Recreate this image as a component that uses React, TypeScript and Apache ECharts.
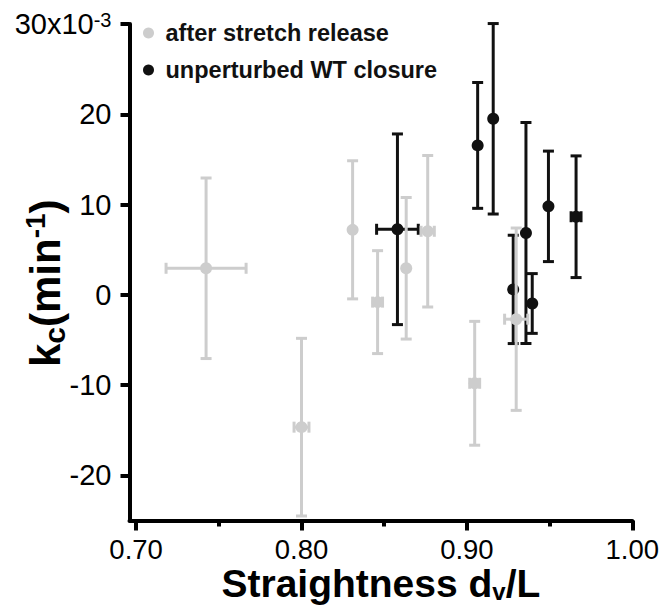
import React, { useEffect, useRef } from 'react';
import * as echarts from 'echarts';

// after stretch release (light gray)
const releaseX = [0.7423, 0.8, 0.8309, 0.846, 0.8633, 0.8763, 0.9047, 0.9298];
const releaseY = [2.94, -14.66, 7.2, -0.81, 2.94, 7.04, -9.8, -2.7];
const releaseXErr = [0.0242, 0.0045, 0, 0.003, 0, 0.004, 0.003, 0.007];
const releaseYErr = [10.0, 9.84, 7.65, 5.7, 7.84, 8.39, 6.86, 10.1];

// unperturbed WT closure (black)
const wtX = [0.858, 0.9065, 0.9159, 0.928, 0.9357, 0.9395, 0.9493, 0.966];
const wtY = [7.26, 16.55, 19.5, 0.6, 6.85, -0.96, 9.8, 8.65];
const wtXErr = [0.0126, 0, 0, 0, 0, 0, 0, 0.003];
const wtYErr = [10.56, 6.97, 10.55, 6.0, 12.24, 3.31, 6.12, 6.74];

const xTicks = [0.7, 0.8, 0.9, 1.0];
const xMinorTicks = [0.75, 0.85, 0.95];
const yTicks = [-20, -10, 0, 10, 20, 30];

const NAME_RELEASE = 'after stretch release';
const NAME_WT = 'unperturbed WT closure';

const FONT = '"Liberation Sans", Arial, Helvetica, sans-serif';
const GRAY = '#cdcdcd';
const DARK = '#111111';

function errorRenderer(color: string) {
  return (params: any, api: any) => {
    const x = api.value(0);
    const y = api.value(1);
    const xe = api.value(2);
    const ye = api.value(3);
    const c = api.coord([x, y]);
    const top = api.coord([x, y + ye]);
    const bot = api.coord([x, y - ye]);
    const cap = 5.5;
    const style = { stroke: color, lineWidth: 3, fill: null };
    const children: any[] = [
      { type: 'line', shape: { x1: c[0], y1: top[1], x2: c[0], y2: bot[1] }, style },
      { type: 'line', shape: { x1: c[0] - cap, y1: top[1], x2: c[0] + cap, y2: top[1] }, style },
      { type: 'line', shape: { x1: c[0] - cap, y1: bot[1], x2: c[0] + cap, y2: bot[1] }, style },
    ];
    if (xe > 0) {
      const l = api.coord([x - xe, y]);
      const r = api.coord([x + xe, y]);
      children.push(
        { type: 'line', shape: { x1: l[0], y1: c[1], x2: r[0], y2: c[1] }, style },
        { type: 'line', shape: { x1: l[0], y1: c[1] - cap, x2: l[0], y2: c[1] + cap }, style },
        { type: 'line', shape: { x1: r[0], y1: c[1] - cap, x2: r[0], y2: c[1] + cap }, style }
      );
    }
    return { type: 'group', children };
  };
}

export default function App() {
  const ref = useRef<HTMLDivElement>(null);

  useEffect(() => {
    if (!ref.current) return;
    const chart = echarts.init(ref.current, undefined, { renderer: 'svg' });

    const releaseErr = releaseX.map((x, i) => [x, releaseY[i], releaseXErr[i], releaseYErr[i]]);
    const wtErr = wtX.map((x, i) => [x, wtY[i], wtXErr[i], wtYErr[i]]);
    const releasePts = releaseX.map((x, i) => [x, releaseY[i]]);
    const wtPts = wtX.map((x, i) => [x, wtY[i]]);

    const option: any = {
      animation: false,
      backgroundColor: '#ffffff',
      textStyle: { fontFamily: FONT },
      grid: { left: 129.5, right: 34.7, top: 24, bottom: 87.5, containLabel: false, outerBoundsMode: 'none' },
      legend: {
        data: [NAME_RELEASE, NAME_WT],
        orient: 'vertical',
        left: 138,
        top: 15,
        icon: 'circle',
        itemWidth: 24,
        itemHeight: 11,
        itemGap: 11,
        textStyle: { fontFamily: FONT, fontSize: 23.5, fontWeight: 'bold', color: '#111', lineHeight: 26 },
      },
      xAxis: [
        {
          type: 'value',
          min: 0.696,
          max: 1.0,
          position: 'bottom',
          offset: 0,
          axisLine: { show: true, onZero: false, lineStyle: { color: '#000', width: 4 } },
          axisTick: { show: true, customValues: xTicks, length: 10, lineStyle: { color: '#000', width: 4 } },
          axisLabel: {
            customValues: xTicks,
            formatter: (v: number) => v.toFixed(2),
            fontFamily: FONT,
            fontSize: 27.5,
            lineHeight: 26,
            color: '#000',
            margin: 16,
          },
          splitLine: { show: false },
          name: 'Straightness d{sub|v}/L',
          nameLocation: 'middle',
          nameGap: 43,
          nameMoveOverlap: false,
          nameTextStyle: {
            fontFamily: FONT,
            fontSize: 39,
            fontWeight: 'bold',
            color: '#000',
            lineHeight: 40,
            rich: {
              sub: { fontFamily: FONT, fontSize: 24, fontWeight: 'bold', color: '#000', lineHeight: 20, verticalAlign: 'bottom' },
            },
          },
        },
        {
          type: 'value',
          min: 0.696,
          max: 1.0,
          position: 'bottom',
          offset: 0,
          axisLine: { show: false, onZero: false },
          axisTick: { show: true, customValues: xMinorTicks, length: 6, lineStyle: { color: '#000', width: 4 } },
          axisLabel: { show: false },
          splitLine: { show: false },
        },
      ],
      yAxis: {
        type: 'value',
        min: -25,
        max: 30,
        axisLine: { show: true, onZero: false, lineStyle: { color: '#000', width: 4 } },
        axisTick: { show: true, customValues: yTicks, length: 9, lineStyle: { color: '#000', width: 4 } },
        axisLabel: {
          customValues: yTicks,
          formatter: (v: number) => (v === 30 ? '30x10{sup|-3}' : String(v)),
          fontFamily: FONT,
          fontSize: 29,
          color: '#000',
          margin: 18,
          rich: {
            sup: { fontFamily: FONT, fontSize: 20, color: '#000', lineHeight: 12, verticalAlign: 'top' },
          },
        },
        splitLine: { show: false },
        name: 'k{sub|c}(min{sup|-1})',
        nameLocation: 'middle',
        nameRotate: 90,
        nameGap: 60,
        nameMoveOverlap: false,
        nameTextStyle: {
          fontFamily: FONT,
          fontSize: 42,
          fontWeight: 'bold',
          color: '#000',
          lineHeight: 48,
          padding: [0, 22, 0, 0],
          rich: {
            sub: { fontFamily: FONT, fontSize: 30, fontWeight: 'bold', color: '#000', lineHeight: 20, verticalAlign: 'bottom' },
            sup: { fontFamily: FONT, fontSize: 28, fontWeight: 'bold', color: '#000', lineHeight: 16, verticalAlign: 'top' },
          },
        },
      },
      series: [
        {
          name: 'wt-err',
          type: 'custom',
          xAxisIndex: 0,
          renderItem: errorRenderer(DARK),
          encode: { x: 0, y: 1 },
          data: wtErr,
          z: 2,
        },
        {
          name: NAME_WT,
          type: 'scatter',
          xAxisIndex: 0,
          data: wtPts,
          symbol: 'circle',
          symbolSize: 12,
          itemStyle: { color: DARK, opacity: 1 },
          z: 3,
        },
        {
          name: 'release-err',
          type: 'custom',
          xAxisIndex: 0,
          renderItem: errorRenderer(GRAY),
          encode: { x: 0, y: 1 },
          data: releaseErr,
          z: 4,
        },
        {
          name: NAME_RELEASE,
          type: 'scatter',
          xAxisIndex: 0,
          data: releasePts,
          symbol: 'circle',
          symbolSize: 12,
          itemStyle: { color: GRAY, opacity: 1 },
          z: 5,
        },
      ],
    };

    chart.setOption(option);
    return () => chart.dispose();
  }, []);

  return (
    <div
      ref={ref}
      style={{ position: 'fixed', left: 0, top: 0, width: 667, height: 608, background: '#fff' }}
    />
  );
}
